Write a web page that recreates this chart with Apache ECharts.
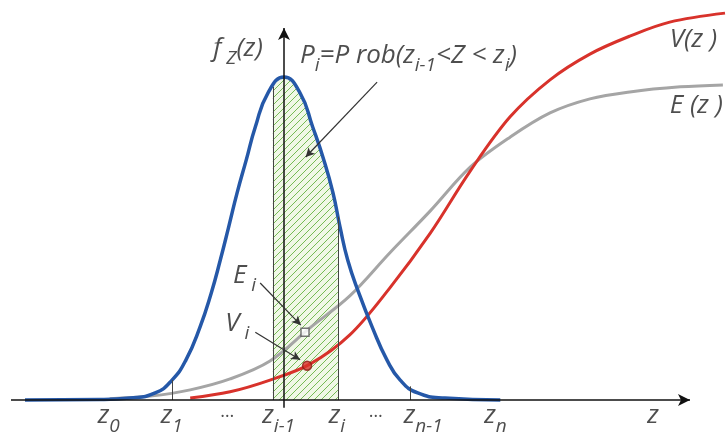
<!DOCTYPE html>
<html>
<head>
<meta charset="utf-8">
<script src="https://cdn.jsdelivr.net/npm/echarts@6/dist/echarts.min.js"></script>
<style>
html, body { margin: 0; padding: 0; background: #fff; }
#chart { width: 728px; height: 433px; }
</style>
</head>
<body>
<div id="chart"></div>
<script>
// values (z on 0..100, height on 0..100)
const densityPts = [[0, 0], [10.7, 0.1], [15, 0.5], [18.6, 1.8], [21, 5.1], [23, 10.3], [25, 18.7], [26.6, 27.4], [27.9, 35.9], [29.1, 44.4], [30.3, 53.1], [31.6, 61.5], [32.9, 70], [34.7, 78.7], [37, 82.8], [39.3, 78.7], [41.1, 70], [42.7, 61.5], [44, 53.1], [45, 44.4], [46.1, 35.9], [47.7, 27.4], [49.6, 18.7], [51.7, 10.3], [53.6, 5.1], [56.1, 1.8], [60, 0.5], [67.9, 0]];
const slicePts = [[35.4, 80.3], [37, 82.8], [39.3, 78.7], [41.1, 70], [42.7, 61.5], [44, 53.1], [44.7, 47]];
const ePts = [[12.1, 0.3], [17.9, 1], [23.6, 2.6], [29.3, 5.4], [35, 10], [40.7, 18.5], [46.4, 26.7], [52.1, 37.7], [57.9, 48.5], [63.6, 59.7], [69.3, 67.4], [75, 73.6], [80.7, 77.2], [86.4, 79], [93.6, 80.3], [99.7, 80.8]];
const vPts = [[23.6, 0.5], [29.3, 2.1], [35, 5.1], [40.7, 9.2], [46.4, 16.7], [52.1, 28.7], [57.9, 42.8], [63.6, 58.7], [69.3, 72.6], [75, 82.1], [80.7, 88.7], [86.4, 93.3], [92.1, 96.9], [100, 99.2]];
const eMark = [40, 17.4];
const vMark = [40.3, 8.8];
// z positions of the cut lines and how high they reach
const cutLines = [[21, 5.1], [35.4, 80.3], [44.7, 47], [55, 3.5]];
const arrows = [[[50.3, 81.5], [40.1, 62.3]], [[33.6, 30], [39.4, 19.2]], [[32.9, 17.4], [39.3, 10.3]]];
const texts = [
  [26.9, 89.7, '{m|f}{s| Z}{m|(z)}'],
  [39.3, 87.9, '{m|P}{s|i}{m|=P rob(z}{s|i-1}{m|<Z < z}{s|i}{m|)}'],
  [92.1, 91.8, '{m|V(z )}'],
  [92.1, 74.9, '{m|E (z )}'],
  [29.7, 31.5, '{m|E}{s| i}'],
  [28.6, 19.2, '{m|V}{s| i}'],
  [10.4, -4.6, '{m|z}{s|0}'],
  [19.4, -4.6, '{m|z}{s|1}'],
  [27.9, -4.6, '{d|…}'],
  [33.9, -4.6, '{m|z}{s|i-1}'],
  [43.4, -4.6, '{m|z}{s|i}'],
  [49.1, -4.6, '{d|…}'],
  [54.1, -4.6, '{m|z}{s|n-1}'],
  [65.6, -4.6, '{m|z}{s|n}'],
  [88.9, -4.6, '{m|z}']
];

const hatch = document.createElement('canvas');
hatch.width = 7; hatch.height = 7;
const hc = hatch.getContext('2d');
hc.fillStyle = '#f0f8e6';
hc.fillRect(0, 0, 7, 7);
hc.strokeStyle = '#76bb55';
hc.lineWidth = 1;
hc.beginPath();
hc.moveTo(-1, 8); hc.lineTo(8, -1);
hc.moveTo(-1, 1); hc.lineTo(1, -1);
hc.moveTo(6, 8); hc.lineTo(8, 6);
hc.stroke();

const font = '"Open Sans", Lato, sans-serif';
const rich = {
  m: { fontSize: 26, fontStyle: 'italic', fontFamily: font, color: '#222', lineHeight: 30, verticalAlign: 'top' },
  s: { fontSize: 19, fontStyle: 'italic', fontFamily: font, color: '#222', lineHeight: 20, padding: [14, 0, 0, 0], verticalAlign: 'top' },
  d: { fontSize: 18, fontFamily: font, color: '#222', lineHeight: 30, verticalAlign: 'top' }
};

const chart = echarts.init(document.getElementById('chart'));

chart.setOption({
  animation: false,
  backgroundColor: '#fff',
  grid: { left: 11, right: 3, top: 10, bottom: 1.8 },
  xAxis: { type: 'value', min: -2, max: 100, show: false },
  yAxis: { type: 'value', min: -8, max: 100, show: false },
  series: [
    {
      type: 'line',
      data: slicePts,
      smooth: true,
      symbol: 'none',
      lineStyle: { width: 0 },
      areaStyle: { color: { image: hatch, repeat: 'repeat' }, opacity: 1 },
      z: 1
    },
    {
      type: 'line',
      data: [],
      symbol: 'none',
      z: 2,
      markLine: {
        silent: true,
        symbol: ['none', 'none'],
        label: { show: false },
        lineStyle: { color: '#444', width: 1, type: 'solid' },
        data: cutLines.map(c => [{ coord: [c[0], 0] }, { coord: [c[0], c[1]] }])
      }
    },
    {
      type: 'line',
      data: ePts,
      smooth: 0.35,
      symbol: 'none',
      lineStyle: { color: '#a5a5a5', width: 3 },
      z: 3
    },
    {
      type: 'line',
      data: vPts,
      smooth: 0.35,
      symbol: 'none',
      lineStyle: { color: '#d8322b', width: 3 },
      z: 3
    },
    {
      type: 'line',
      data: densityPts,
      smooth: true,
      symbol: 'none',
      lineStyle: { color: '#2558a8', width: 3.5 },
      z: 4,
      markLine: {
        silent: true,
        symbol: ['none', 'arrow'],
        symbolSize: [9, 12],
        label: { show: false },
        lineStyle: { color: '#111', width: 1.5, type: 'solid' },
        data: [
          [{ coord: [-2, 0] }, { coord: [95, 0] }],
          [{ coord: [37, -2] }, { coord: [37, 95.4] }]
        ]
      }
    },
    {
      type: 'line',
      data: [],
      symbol: 'none',
      z: 5,
      markLine: {
        silent: true,
        symbol: ['none', 'arrow'],
        symbolSize: [7, 9],
        label: { show: false },
        lineStyle: { color: '#333', width: 1.2, type: 'solid' },
        data: arrows.map(a => [{ coord: a[0] }, { coord: a[1] }])
      }
    },
    {
      type: 'scatter',
      data: [eMark],
      symbol: 'rect',
      symbolSize: 8,
      itemStyle: { color: '#fff', borderColor: '#555', borderWidth: 1.5 },
      z: 6
    },
    {
      type: 'scatter',
      data: [vMark],
      symbol: 'circle',
      symbolSize: 9,
      itemStyle: { color: '#d8322b', borderColor: '#8a1c15', borderWidth: 1.5 },
      z: 6
    },
    {
      type: 'scatter',
      silent: true,
      clip: false,
      symbolSize: 0,
      z: 7,
      data: texts.map(t => ({
        value: [t[0], t[1]],
        label: { show: true, formatter: t[2], position: [0, 0], align: 'left', verticalAlign: 'middle', rich: rich }
      }))
    }
  ]
});
</script>
</body>
</html>
